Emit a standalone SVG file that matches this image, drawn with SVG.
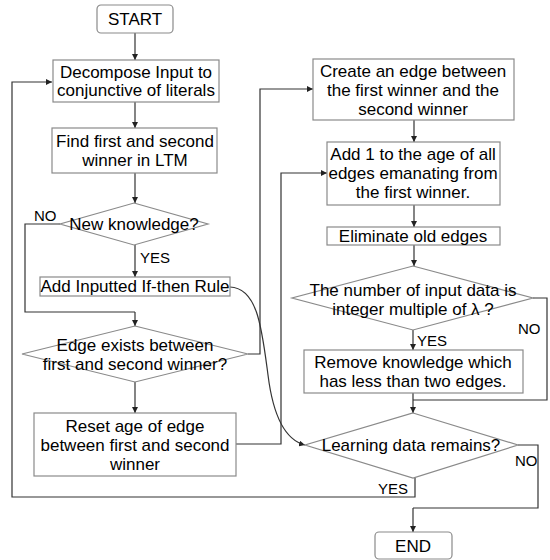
<svg xmlns="http://www.w3.org/2000/svg" width="550" height="560" viewBox="0 0 550 560">
  <defs>
    <marker id="arrow" markerWidth="6" markerHeight="6" refX="6" refY="3" orient="auto" markerUnits="userSpaceOnUse">
      <path d="M0,0 L6,3 L0,6 Z" fill="#222"/>
    </marker>
    <style>
      .box { fill: #fff; stroke: #8a8a8a; stroke-width: 1.2; }
      .dia { fill: #fff; stroke: #8a8a8a; stroke-width: 1.2; }
      .t { font-family: "Liberation Sans", Arial, sans-serif; font-size: 17px; fill: #000; text-anchor: middle; }
      .lbl { font-family: "Liberation Sans", Arial, sans-serif; font-size: 15px; fill: #000; }
      .c { fill: none; stroke: #333; stroke-width: 1.2; }
      .ca { fill: none; stroke: #333; stroke-width: 1.2; marker-end: url(#arrow); }
    </style>
  </defs>

  <rect width="550" height="560" fill="#fff"/>

  <!-- connectors -->
  <g id="connectors">
    <path class="ca" d="M135,33 V60"/>
    <path class="ca" d="M135,102 V128"/>
    <path class="ca" d="M135,173 V203"/>
    <path class="ca" d="M135,245 V277"/>
    <!-- NO from "New knowledge?" -->
    <path class="c" d="M60,224 H25 V312 H135"/>
    <path class="ca" d="M135,312 V326"/>
    <path class="ca" d="M135,382 V413"/>
    <!-- YES from "Edge exists" goes up to "Create an edge" -->
    <path class="ca" d="M248,354 H260 V89 H313"/>
    <!-- from "Reset age" up to "Add 1" -->
    <path class="ca" d="M236,444 H281 V173 H327"/>
    <path class="ca" d="M414,120 V142"/>
    <path class="ca" d="M414,205 V227"/>
    <path class="ca" d="M414,245 V266"/>
    <path class="ca" d="M413,330 V350"/>
    <!-- NO from multiple-of-lambda test -->
    <path class="c" d="M533,298 H547 V400 H413"/>
    <path class="c" d="M413,393 V400"/>
    <path class="ca" d="M413,400 V413"/>
    <!-- curve from "Add Inputted If-then Rule" -->
    <path class="ca" d="M230,287 C258,288 262,330 268,375 C273,415 285,440 305,445"/>
    <!-- NO from "Learning data remains?" -->
    <path class="c" d="M518,445 H538 V508 H413"/>
    <path class="ca" d="M413,508 V532"/>
    <!-- YES loops back to the start -->
    <path class="ca" d="M415,478 V497 H12 V82 H52"/>
  </g>

  <g id="start">
    <rect class="box" x="97" y="5" width="76" height="28" rx="4"/>
    <text class="t" x="135" y="25">START</text>
  </g>

  <g id="decompose">
    <rect class="box" x="53" y="60" width="166" height="42"/>
    <text class="t" x="136" y="78">Decompose Input to</text>
    <text class="t" x="136" y="96">conjunctive of literals</text>
  </g>

  <g id="find">
    <rect class="box" x="52" y="128" width="165" height="45"/>
    <text class="t" x="135" y="147">Find first and second</text>
    <text class="t" x="135" y="166">winner in LTM</text>
  </g>

  <g id="new-knowledge">
    <polygon class="dia" points="134,203 208,224 134,245 60,224"/>
    <text class="t" x="134" y="230">New knowledge?</text>
    <text class="lbl" x="34" y="221">NO</text>
    <text class="lbl" x="140" y="263">YES</text>
  </g>

  <g id="add-rule">
    <rect class="box" x="40" y="277" width="190" height="19"/>
    <text class="t" x="135" y="292">Add Inputted If-then Rule</text>
  </g>

  <g id="edge-exists">
    <polygon class="dia" points="135,326 248,354 135,382 22,354"/>
    <text class="t" x="135" y="351">Edge exists between</text>
    <text class="t" x="135" y="370">first and second winner?</text>
  </g>

  <g id="reset-age">
    <rect class="box" x="34" y="413" width="202" height="63"/>
    <text class="t" x="135" y="432">Reset age of edge</text>
    <text class="t" x="135" y="451">between first and second</text>
    <text class="t" x="135" y="470">winner</text>
  </g>

  <g id="create-edge">
    <rect class="box" x="313" y="59" width="201" height="61"/>
    <text class="t" x="413" y="77">Create an edge between</text>
    <text class="t" x="413" y="96">the first winner and the</text>
    <text class="t" x="413" y="115">second winner</text>
  </g>

  <g id="add-age">
    <rect class="box" x="327" y="142" width="173" height="63"/>
    <text class="t" x="413" y="160">Add 1 to the age of all</text>
    <text class="t" x="413" y="179">edges emanating from</text>
    <text class="t" x="413" y="198">the first winner.</text>
  </g>

  <g id="eliminate">
    <rect class="box" x="327" y="227" width="173" height="18"/>
    <text class="t" x="413" y="242">Eliminate old edges</text>
  </g>

  <g id="multiple-test">
    <polygon class="dia" points="413,266 533,298 413,330 292,298"/>
    <text class="t" x="413" y="296">The number of input data is</text>
    <text class="t" x="413" y="315">integer multiple of λ ?</text>
    <text class="lbl" x="518" y="334">NO</text>
    <text class="lbl" x="417" y="346">YES</text>
  </g>

  <g id="remove-knowledge">
    <rect class="box" x="304" y="350" width="219" height="43"/>
    <text class="t" x="413" y="368">Remove knowledge which</text>
    <text class="t" x="413" y="387">has less than two edges.</text>
  </g>

  <g id="learning-remains">
    <polygon class="dia" points="413,413 518,445 413,478 305,445"/>
    <text class="t" x="411" y="451">Learning data remains?</text>
    <text class="lbl" x="515" y="466">NO</text>
    <text class="lbl" x="378" y="494">YES</text>
  </g>

  <g id="end">
    <rect class="box" x="375" y="532" width="77" height="27" rx="4"/>
    <text class="t" x="413" y="552">END</text>
  </g>
</svg>
